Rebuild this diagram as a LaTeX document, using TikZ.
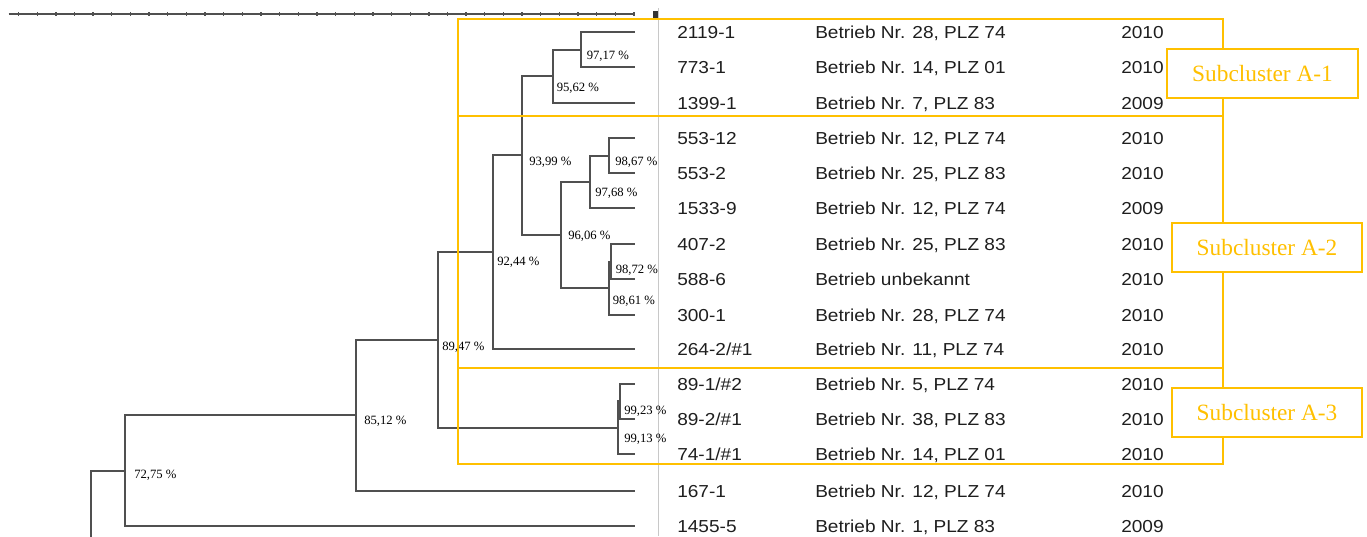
\documentclass[tikz,border=0pt]{standalone}
\usepackage{fontspec}
\setmainfont{Liberation Serif}
\newfontfamily\tabfont[FakeStretch=1.1]{Liberation Sans}
\usetikzlibrary{positioning}
\definecolor{brclr}{RGB}{80,80,80}
\definecolor{clclr}{RGB}{255,192,0}
\definecolor{txtclr}{RGB}{30,30,30}
\definecolor{sepclr}{RGB}{200,200,200}
\tikzset{
    branch/.style={draw=brclr,line width=1.5pt},
    ruler/.style={draw=brclr,line width=1pt},
    pct/.style={anchor=west,inner sep=0pt,text height=6.4pt,text depth=0pt,
                font=\fontsize{9.5}{11}\selectfont},
    cell/.style={anchor=west,inner sep=0pt,text=txtclr,text height=9.3pt,
                 text depth=0pt,font=\tabfont\fontsize{13}{15}\selectfont},
    cluster/.style={draw=clclr,line width=1.5pt},
    clabel/.style={draw=clclr,line width=1.5pt,fill=white,text=clclr,
                   minimum width=143pt,minimum height=36.75pt,inner sep=0pt,
                   font=\fontsize{17.5}{20}\selectfont},
}

\begin{document}
\begin{tikzpicture}[x=0.75pt,y=-0.75pt]
\useasboundingbox (0,0) rectangle (1367,536);

% scale bar and separator
\draw[ruler] (8.7,14) -- (634,14);
\foreach \k in {0,...,33} \draw[ruler] ({634-18.65*\k},12) -- ++(0,4);
\fill[black!80] (653,11) rectangle (658,19);
\draw[sepclr,line width=0.75pt] (658,8) -- (658,536);

% strains
\foreach \y/\nm/\sid/\farm/\yr in {
    32/s2119/{2119-1}/{Betrieb Nr. 28, PLZ 74}/2010,
    67/s773/{773-1}/{Betrieb Nr. 14, PLZ 01}/2010,
    103/s1399/{1399-1}/{Betrieb Nr. 7, PLZ 83}/2009,
    138/s55312/{553-12}/{Betrieb Nr. 12, PLZ 74}/2010,
    173/s5532/{553-2}/{Betrieb Nr. 25, PLZ 83}/2010,
    208/s1533/{1533-9}/{Betrieb Nr. 12, PLZ 74}/2009,
    244/s407/{407-2}/{Betrieb Nr. 25, PLZ 83}/2010,
    279/s588/{588-6}/{Betrieb unbekannt}/2010,
    315/s300/{300-1}/{Betrieb Nr. 28, PLZ 74}/2010,
    349/s264/{264-2/\#1}/{Betrieb Nr. 11, PLZ 74}/2010,
    384/s891/{89-1/\#2}/{Betrieb Nr. 5, PLZ 74}/2010,
    419/s892/{89-2/\#1}/{Betrieb Nr. 38, PLZ 83}/2010,
    454/s741/{74-1/\#1}/{Betrieb Nr. 14, PLZ 01}/2010,
    491/s167/{167-1}/{Betrieb Nr. 12, PLZ 74}/2010,
    526/s1455/{1455-5}/{Betrieb Nr. 1, PLZ 83}/2009}{
  \coordinate (\nm) at (635,\y);
  \node[cell] (\nm-id)   at (677,\y)  {\sid};
  \node[cell] (\nm-farm) at (815,\y)  {\farm};
  \node[cell] (\nm-yr)   at (1121,\y) {\yr};
}

% joins
\coordinate (n9717) at (581,50);
\coordinate (n9562) at (553,76);
\coordinate (n9399) at (522,155);
\coordinate (n9867) at (609,156);
\coordinate (n9768) at (590,182);
\coordinate (n9606) at (561,235);
\coordinate (n9872) at (611,262);
\coordinate (n9861) at (609,288);
\coordinate (n9244) at (493,252);
\coordinate (n9923) at (620,401);
\coordinate (n9913) at (618,428);
\coordinate (n8947) at (438,340);
\coordinate (n8512) at (356,415);
\coordinate (n7275) at (125,471);
\coordinate (root)  at (91,540);

\foreach \p/\c in {n9717/s2119, n9717/s773, n9562/n9717, n9562/s1399,
    n9867/s55312, n9867/s5532, n9768/n9867, n9768/s1533,
    n9872/s407, n9872/s588, n9861/n9872, n9861/s300,
    n9606/n9768, n9606/n9861, n9399/n9562, n9399/n9606,
    n9244/n9399, n9244/s264, n9923/s891, n9923/s892,
    n9913/n9923, n9913/s741, n8947/n9244, n8947/n9913,
    n8512/n8947, n8512/s167, n7275/n8512, n7275/s1455, root/n7275}
  \draw[branch] (\p) |- (\c);

\node[pct] (p9717) at (586.5,55.7)  {97,17 \%};
\node[pct] (p9562) at (556.5,87.7)  {95,62 \%};
\node[pct] (p9399) at (529,161.7)   {93,99 \%};
\node[pct] (p9867) at (615,161.7)   {98,67 \%};
\node[pct] (p9768) at (595,192.3)   {97,68 \%};
\node[pct] (p9606) at (568,235.5)   {96,06 \%};
\node[pct] (p9244) at (497,261)     {92,44 \%};
\node[pct] (p9872) at (615.5,269)   {98,72 \%};
\node[pct] (p9861) at (612.5,300)   {98,61 \%};
\node[pct] (p8947) at (442,346)     {89,47 \%};
\node[pct] (p8512) at (364,420)     {85,12 \%};
\node[pct] (p9923) at (624,410)     {99,23 \%};
\node[pct] (p9913) at (624,438.3)   {99,13 \%};
\node[pct] (p7275) at (134,474)     {72,75 \%};

% subclusters
\draw[cluster] (458,19) rectangle (1223,116);
\draw[cluster] (458,116) rectangle (1223,368);
\draw[cluster] (458,368) rectangle (1223,464);
\node[clabel] (ca1) at (1262.5,73.5) {Subcluster A-1};
\node[clabel] (ca2) at (1267,247.5)  {Subcluster A-2};
\node[clabel] (ca3) at (1267,412.5)  {Subcluster A-3};
\end{tikzpicture}
\end{document}
